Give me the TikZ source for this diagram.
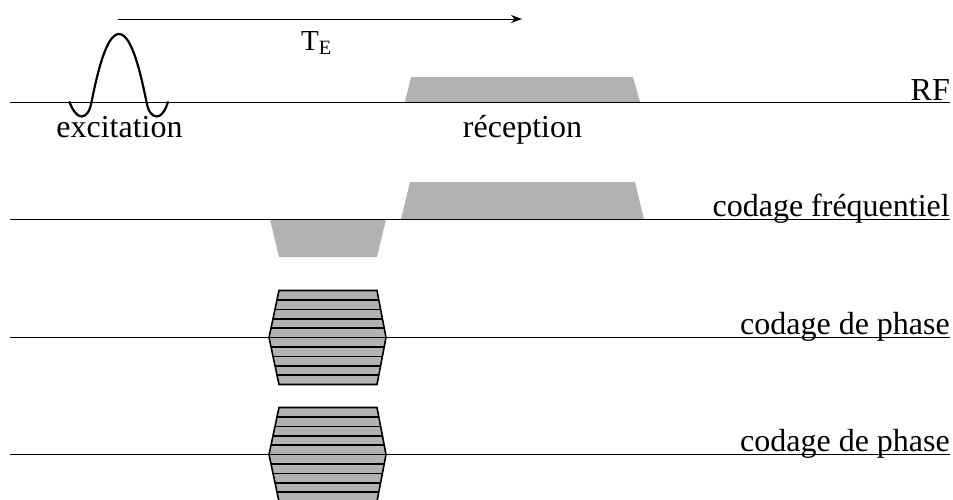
\documentclass[tikz,border=0pt]{standalone}
\usepackage{fontspec}
\setmainfont{Liberation Serif}
\usetikzlibrary{arrows.meta}
\tikzset{
  axisline/.style={line width=1pt,black},
  gradefill/.style={fill=black!30,draw=none},
  gradebox/.style={fill=black!30,draw=black,line width=1.6pt,line join=miter},
  stripe/.style={line width=1.6pt,black},
  lbl/.style={font=\fontsize{32}{35}\selectfont,inner sep=0pt,anchor=base},
  lblr/.style={font=\fontsize{32}{35}\selectfont,inner sep=0pt,anchor=base east},
}
\newcommand{\phasegrad}[1]{%
  \begin{scope}[shift={(0,#1)}]
    \path[gradebox] (279,-47) -- (377,-47) -- (386,0) -- (377,47) -- (279,47) -- (269,0) -- cycle;
    \foreach \k in {1,...,9}{
      \pgfmathsetmacro{\yy}{-47+9.4*\k}
      \pgfmathsetmacro{\dx}{10*(1-abs(\yy)/47)}
      \draw[stripe] (279-\dx,\yy) -- (377+\dx,\yy);
    }
  \end{scope}}
\begin{document}
\begin{tikzpicture}[x=1pt,y=-1pt]
\useasboundingbox (0,0) rectangle (953,499);
\clip (0,0) rectangle (953,499);
% gradients
\fill[gradefill] (405,102) -- (411,77) -- (633,77) -- (640,102) -- cycle;
\fill[gradefill] (401,219.5) -- (410,182) -- (635,182) -- (644,219.5) -- cycle;
\fill[gradefill] (270,219.5) -- (279,257) -- (377,257) -- (386,219.5) -- cycle;
% axes
\coordinate (rfL) at (10,102); \coordinate (rfR) at (950,102);
\coordinate (fqL) at (10,219.5); \coordinate (fqR) at (950,219.5);
\coordinate (p1L) at (10,337.5); \coordinate (p1R) at (950,337.5);
\coordinate (p2L) at (10,454.5); \coordinate (p2R) at (950,454.5);
\draw[axisline] (rfL) -- (rfR);
\draw[axisline] (fqL) -- (fqR);
\draw[axisline] (p1L) -- (p1R);
\draw[axisline] (p2L) -- (p2R);
\phasegrad{337.5}
\phasegrad{454.5}
% sinc pulse
\draw[line width=2.2pt,line cap=round]
  (69.5,102) .. controls (72.5,110) and (77,116.5) .. (81.5,116.5)
  .. controls (87,116.5) and (90,110) .. (91.5,102)
  .. controls (97,75) and (106,34) .. (119,34)
  .. controls (132,34) and (141,75) .. (146.5,102)
  .. controls (148,110) and (151,116.5) .. (157,116.5)
  .. controls (161.5,116.5) and (165.5,110) .. (168,102);
% echo time arrow
\coordinate (teA) at (118,19); \coordinate (teB) at (522,19);
\draw[line width=1pt,-{Stealth[length=11pt,width=8pt]}] (teA) -- (teB);
% labels
\node[lbl,font=\fontsize{29}{32}\selectfont] (te) at (316.5,50) {T\textsubscript{E}};
\node[lbl] (exc) at (119.5,137) {excitation};
\node[lbl] (rec) at (522.5,137) {réception};
\node[lblr] (rf) at (950,100) {RF};
\node[lblr] (cf) at (950,216) {codage fréquentiel};
\node[lblr] (cp1) at (950,334) {codage de phase};
\node[lblr] (cp2) at (950,451) {codage de phase};
\end{tikzpicture}
\end{document}
